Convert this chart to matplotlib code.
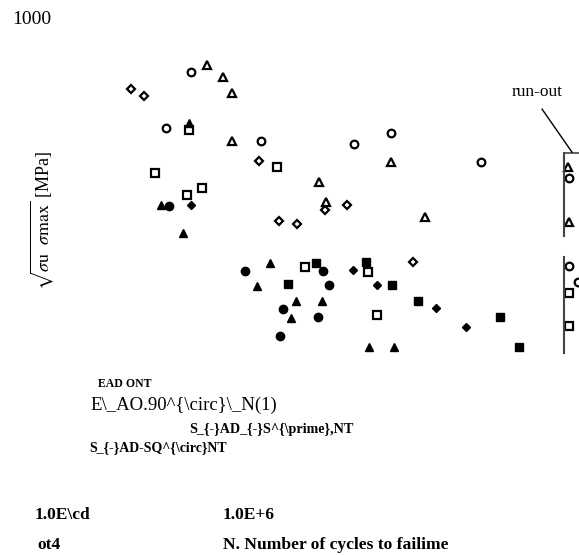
import matplotlib
matplotlib.use("Agg")
import matplotlib.pyplot as plt

plt.rcParams['font.family'] = ['Liberation Serif', 'DejaVu Serif']
plt.rcParams['mathtext.fontset'] = 'stix'

# S-N data: N = cycles to failure, S = sqrt(sigma_u * sigma_max) [MPa]
open_circle_N = [4.80e5, 3.51e5, 1.15e6, 3.65e6, 5.78e6, 1.77e7, 5.30e7, 5.30e7, 5.93e7]
open_circle_S = [876, 760, 733, 727, 750, 690, 656, 474, 441]

open_diamond_N = [2.27e5, 2.67e5, 1.12e6, 2.54e6, 3.34e6, 1.43e6, 1.80e6, 7.60e6]
open_diamond_S = [841, 826, 692, 590, 600, 567, 561, 482]

open_triangle_N = [5.86e5, 7.15e5, 8.0e5, 8.0e5, 5.78e6, 2.36e6, 2.58e6, 8.83e6, 5.24e7, 5.30e7]
open_triangle_S = [890, 865, 832, 733, 690, 648, 607, 576, 679, 565]

open_square_N = [4.68e5, 3.06e5, 4.56e5, 5.50e5, 1.40e6, 1.98e6, 4.34e6, 4.86e6, 5.30e7, 5.30e7]
open_square_S = [756, 667, 621, 636, 679, 472, 462, 373, 418, 350]

filled_square_N = [2.27e6, 4.24e6, 1.60e6, 5.86e6, 8.09e6, 2.24e7, 2.84e7]
filled_square_S = [480, 482, 437, 435, 402, 369, 307]

filled_circle_N = [9.4e5, 2.48e6, 2.67e6, 1.51e6, 2.33e6, 1.45e6, 3.65e5]
filled_circle_S = [464, 464, 435, 385, 369, 329, 598]

filled_diamond_N = [3.60e6, 4.86e6, 1.01e7, 1.47e7, 4.80e5]
filled_diamond_S = [466, 435, 387, 348, 600]

filled_triangle_N = [3.30e5, 4.34e5, 1.28e6, 1.09e6, 1.77e6, 2.45e6, 1.67e6, 4.40e6, 6.0e6, 4.68e5]
filled_triangle_S = [600, 542, 480, 433, 402, 402, 367, 307, 307, 770]

# run-out bracket and leader
runout_N = 5.0e7
runout_top = [708, 536]
runout_bottom = [493, 294]
leader_N = [3.79e7, 5.5e7]
leader_S = [799, 710]

fig = plt.figure(figsize=(5.79, 5.55), dpi=100)
ax = fig.add_axes([0, 0, 1, 1])
ax.set_xscale('log')
ax.set_xlim(4.46e4, 6.0e7)
ax.set_ylim(-124, 1025)
ax.axis('off')

ms = 5.5
ax.plot(open_circle_N, open_circle_S, 'o', ms=ms, mfc='white', mec='black', mew=1.6, ls='none')
ax.plot(open_diamond_N, open_diamond_S, 'D', ms=ms - 1, mfc='white', mec='black', mew=1.6, ls='none')
ax.plot(open_triangle_N, open_triangle_S, '^', ms=ms, mfc='white', mec='black', mew=1.6, ls='none')
ax.plot(open_square_N, open_square_S, 's', ms=ms + 0.5, mfc='white', mec='black', mew=1.6, ls='none')
ax.plot(filled_square_N, filled_square_S, 's', ms=ms + 0.5, color='black', ls='none')
ax.plot(filled_circle_N, filled_circle_S, 'o', ms=ms + 0.5, color='black', ls='none')
ax.plot(filled_diamond_N, filled_diamond_S, 'D', ms=ms - 1, color='black', ls='none')
ax.plot(filled_triangle_N, filled_triangle_S, '^', ms=ms, color='black', ls='none')

ax.plot([runout_N, runout_N], runout_top, color='#444444', lw=1.5)
ax.plot([runout_N, runout_N], runout_bottom, color='#444444', lw=1.5)
ax.plot([runout_N, 6.0e7], [runout_top[0], runout_top[0]], color='#444444', lw=1.2)
ax.plot(leader_N, leader_S, color='black', lw=1.0)
ax.text(3.56e7, 834, 'run-out', ha='center', va='center', fontsize=12.5)


def fpos(x, y):
    return x / 579, 1 - y / 555


fig.text(*fpos(12, 19), '1000', fontsize=14, va='center')
fig.text(*fpos(42, 221), r'$\sqrt{\sigma\mathrm{u}\ \ \sigma\mathrm{max}}$ [MPa]',
         rotation=90, fontsize=13, ha='center', va='center')

fig.text(*fpos(98, 384), 'EAD ONT', fontsize=8.5, va='center', weight='bold')
fig.text(*fpos(90, 405), r'E\_AO.90^{\circ}\_N(1)', fontsize=13.5, va='center')
fig.text(*fpos(189, 429), r'S_{-}AD_{-}S^{\prime},NT', fontsize=10.2, va='center', weight='bold')
fig.text(*fpos(89, 448), r'S_{-}AD-SQ^{\circ}NT', fontsize=10, va='center', weight='bold')

fig.text(*fpos(35, 515), r'1.0E\cd', fontsize=12.5, va='center', weight='bold')
fig.text(*fpos(223, 515), '1.0E+6', fontsize=12.5, va='center', weight='bold')
fig.text(*fpos(37, 545), 'ot4', fontsize=12.5, va='center', weight='bold')
fig.text(*fpos(223, 545), 'N. Number of cycles to failime', fontsize=12.6, va='center', weight='bold')

fig.savefig('out.png', dpi=100)
